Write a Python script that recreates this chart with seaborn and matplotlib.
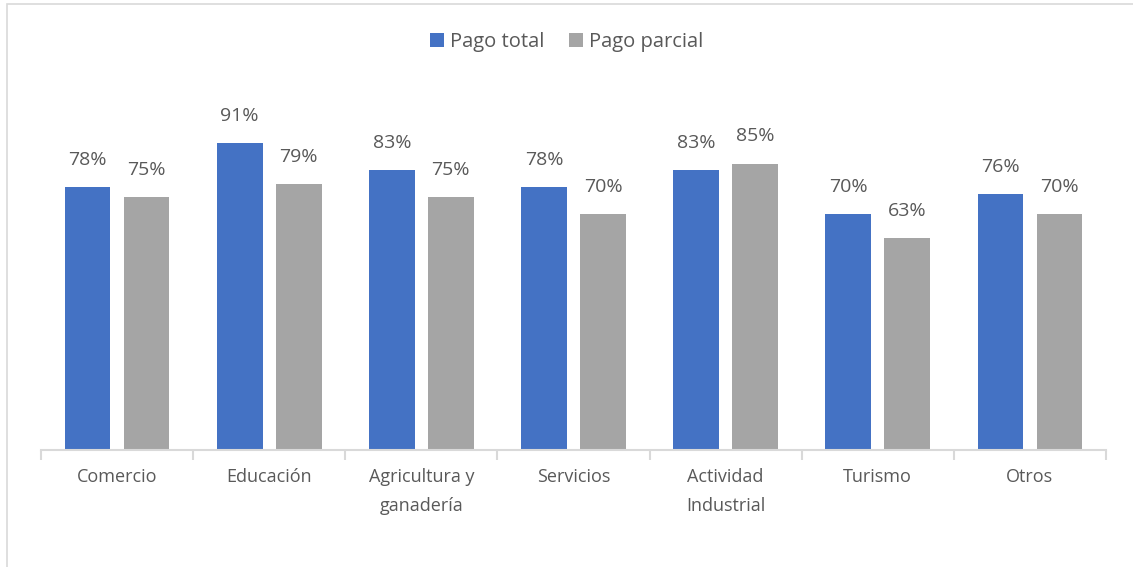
import matplotlib
matplotlib.use("Agg")
import matplotlib.pyplot as plt
import numpy as np
import pandas as pd
import seaborn as sns
from matplotlib.patches import Rectangle
from matplotlib.ticker import FixedLocator

categories = ["Comercio", "Educación", "Agricultura y\nganadería", "Servicios",
              "Actividad\nIndustrial", "Turismo", "Otros"]
pago_total = [0.78, 0.91, 0.83, 0.78, 0.83, 0.70, 0.76]
pago_parcial = [0.75, 0.79, 0.75, 0.70, 0.85, 0.63, 0.70]
series = ["Pago total", "Pago parcial"]
colors = ["#4472C4", "#A5A5A5"]

df = pd.DataFrame({
    "categoria": categories * 2,
    "serie": [series[0]] * len(categories) + [series[1]] * len(categories),
    "valor": pago_total + pago_parcial,
})

sns.set_theme(style="white")
plt.rcParams["font.family"] = ["Open Sans", "DejaVu Sans"]
text_color = "#595959"

fig = plt.figure(figsize=(11.33, 5.67), dpi=100)
ax = fig.add_axes([41 / 1133, 117 / 567, 1065 / 1133, 337 / 567])

sns.barplot(data=df, x="categoria", y="valor", hue="serie", palette=colors,
            saturation=1, width=0.776, gap=0.227, linewidth=0, edgecolor="none",
            ax=ax, legend=True)

for cont in ax.containers:
    ax.bar_label(cont, labels=[f"{v * 100:.0f}%" for v in cont.datavalues],
                 padding=13, fontsize=14, color=text_color, clip_on=False)

ax.set_ylim(0, 1.0)
ax.set_xlim(-0.5, len(categories) - 0.5)
ax.set_xlabel("")
ax.set_ylabel("")
ax.set_yticks([])
for side in ["top", "right", "left"]:
    ax.spines[side].set_visible(False)
ax.spines["bottom"].set_color("#d9d9d9")
ax.spines["bottom"].set_linewidth(1.5)

ax.tick_params(axis="x", which="major", bottom=False, length=0, labelsize=13,
               labelcolor=text_color, pad=13)
ax.xaxis.set_minor_locator(FixedLocator(np.arange(-0.5, len(categories), 1.0)))
ax.tick_params(axis="x", which="minor", bottom=True, length=7, width=1.5,
               color="#d9d9d9", direction="out")
for lbl in ax.get_xticklabels():
    lbl.set_linespacing(1.75)

leg = ax.legend(loc="center", bbox_to_anchor=(0.5, 1 - 42 / 567),
                bbox_transform=fig.transFigure, ncol=2, frameon=False,
                fontsize=14.5, handlelength=0.7, handleheight=0.7,
                handletextpad=0.3, columnspacing=1.2)
for t in leg.get_texts():
    t.set_color(text_color)

# outer chart frame (partly cut off in the original)
fig.patches.append(Rectangle((7 / 1133, -0.1), 1.2, 1 - 4 / 567 + 0.1,
                             transform=fig.transFigure, fill=False,
                             edgecolor="#d9d9d9", linewidth=1.2))

fig.savefig("out.png", dpi=100)
plt.close(fig)
